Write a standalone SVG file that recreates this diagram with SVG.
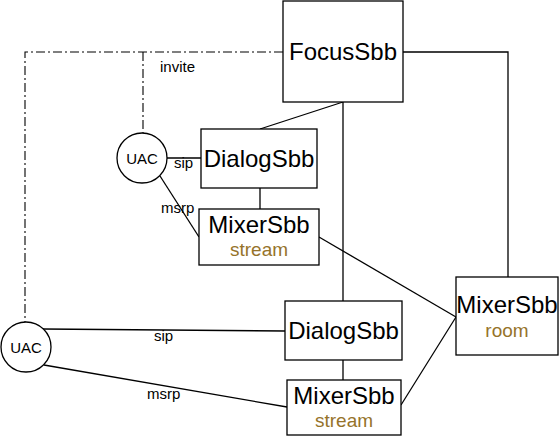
<svg xmlns="http://www.w3.org/2000/svg" width="559" height="438" viewBox="0 0 559 438">
<style>
.box{fill:#fff;stroke:#000;stroke-width:1.3}
.uac{fill:#fff;stroke:#000;stroke-width:1.3}
.t{font-family:"Liberation Sans",Arial,sans-serif;font-size:24px;fill:#000;text-anchor:middle}
.s{font-family:"Liberation Sans",Arial,sans-serif;font-size:19px;fill:#96732a;text-anchor:middle}
.l{font-family:"Liberation Sans",Arial,sans-serif;font-size:15px;fill:#000}
.u{font-family:"Liberation Sans",Arial,sans-serif;font-size:15px;fill:#000;text-anchor:middle}
.c{fill:none;stroke:#000;stroke-width:1.3}
.d{fill:none;stroke:#000;stroke-width:1.1;stroke-dasharray:9,3,2,3}
</style>
<rect width="559" height="438" fill="#fff"/>
<g id="connectors">
<path class="d" d="M283,52 H25 V322"/>
<path class="d" d="M143,52 V134"/>
<path class="c" d="M403,52 H508 V277"/>
<path class="c" d="M343,102 L260,129"/>
<path class="c" d="M343,102 V301"/>
<path class="c" d="M167,158 H201"/>
<path class="c" d="M160,176 L199,237"/>
<path class="c" d="M260,188 V209"/>
<path class="c" d="M319,237 L456,317"/>
<path class="c" d="M343,360 V380"/>
<path class="c" d="M401,405 L456,317"/>
<path class="c" d="M43,329 L285,331"/>
<path class="c" d="M44,365 L287,407"/>
<text class="l" x="160" y="72">invite</text>
<text class="l" x="174" y="168">sip</text>
<text class="l" x="161" y="213">msrp</text>
<text class="l" x="154" y="341">sip</text>
<text class="l" x="147" y="399">msrp</text>
</g>
<g id="focus">
<rect class="box" x="283" y="1" width="120" height="101"/>
<text class="t" x="343" y="60">FocusSbb</text>
</g>
<g id="uac1">
<circle class="uac" cx="142" cy="158" r="25"/>
<text class="u" x="142" y="164">UAC</text>
</g>
<g id="dialog1">
<rect class="box" x="201" y="129" width="116" height="59"/>
<text class="t" x="259" y="167">DialogSbb</text>
</g>
<g id="mixer1">
<rect class="box" x="199" y="209" width="120" height="56"/>
<text class="t" x="259" y="233">MixerSbb</text>
<text class="s" x="259" y="256">stream</text>
</g>
<g id="room">
<rect class="box" x="456" y="277" width="102" height="78"/>
<text class="t" x="507" y="313">MixerSbb</text>
<text class="s" x="507" y="337">room</text>
</g>
<g id="uac2">
<circle class="uac" cx="26" cy="347" r="25"/>
<text class="u" x="26" y="353">UAC</text>
</g>
<g id="dialog2">
<rect class="box" x="285" y="301" width="117" height="59"/>
<text class="t" x="343.5" y="339">DialogSbb</text>
</g>
<g id="mixer2">
<rect class="box" x="287" y="380" width="114" height="55"/>
<text class="t" x="344" y="404">MixerSbb</text>
<text class="s" x="344" y="427">stream</text>
</g>
</svg>
